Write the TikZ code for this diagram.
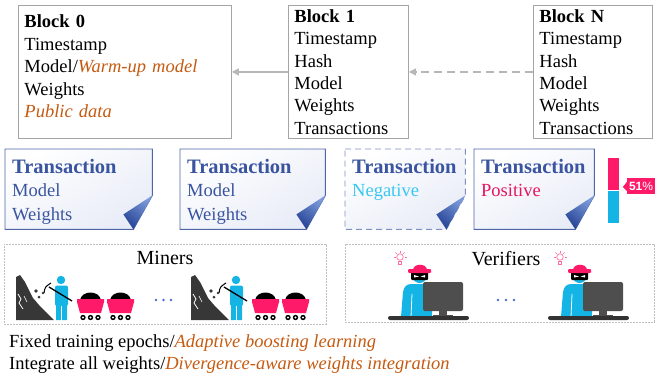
\documentclass[tikz,border=0pt]{standalone}
\usepackage{fontspec}
\setmainfont{Liberation Serif}
\newfontfamily\tagfont{Liberation Sans}
\usetikzlibrary{arrows.meta, positioning}
\definecolor{blkline}{RGB}{165,165,165}
\definecolor{warm}{RGB}{197,90,17}
\definecolor{txblue}{RGB}{58,84,160}
\definecolor{docbg}{RGB}{232,236,247}
\definecolor{folddk}{RGB}{38,68,150}
\definecolor{foldlt}{RGB}{125,155,218}
\definecolor{negc}{RGB}{55,200,240}
\definecolor{posc}{RGB}{230,20,95}
\definecolor{pinkc}{RGB}{255,25,105}
\definecolor{bulbc}{RGB}{255,110,160}
\definecolor{cyanc}{RGB}{20,180,228}
\definecolor{rockc}{RGB}{55,55,55}
\definecolor{monc}{RGB}{78,78,78}
\definecolor{dotc}{RGB}{70,110,200}
\tikzset{
  % bloco da cadeia
  blk/.style={rectangle, draw=blkline, line width=0.9pt, anchor=north west,
              align=left, inner xsep=6pt, inner ysep=1pt,
              font=\fontsize{18.5}{22.4}\selectfont},
  ar/.style={-{Triangle[length=7pt,width=7pt]}, line width=1.3pt, draw=blkline!80},
  % folha de transação
  docbox/.style={rectangle, anchor=north west, minimum height=80pt, inner sep=0pt},
  txdoc/.style={draw=txblue!90, line width=0.9pt, top color=white, bottom color=docbg,
                shading angle=30},
  fold/.style={top color=foldlt, bottom color=folddk, shading angle=-40},
  txtxt/.style={anchor=north west, align=left, inner sep=0pt, text=txblue,
                font=\fontsize{18.5}{23.5}\selectfont},
  % grupos de mineradores / verificadores
  grpbox/.style={rectangle, anchor=north west, draw=blkline!70, line width=0.6pt,
                 dash pattern=on 2pt off 1pt},
  grplbl/.style={anchor=base, font=\fontsize{20}{24}\selectfont},
  pct/.style={rectangle, fill=pinkc, text=white, inner sep=0pt, minimum width=28pt,
              minimum height=16pt, font=\tagfont\fontsize{12}{12}\selectfont},
  note/.style={anchor=base west, inner sep=0pt, font=\fontsize{18.5}{22}\selectfont}
}
\newcommand{\txpaper}[2][]{%
  \path[txdoc,#1] (#2.north west) -- (#2.north east) -- ([yshift=34]#2.south east)
    -- ([xshift=-19]#2.south east) -- (#2.south west) -- cycle;
  \path[fold] ([xshift=-29,yshift=15]#2.south east) -- ([yshift=34]#2.south east)
    -- ([xshift=-19]#2.south east) -- cycle;}

\begin{document}
\begin{tikzpicture}[x=1pt, y=1pt]
  \useasboundingbox (0,0) rectangle (658,-375);

  % --- cadeia de blocos ---
  \node[blk, minimum width=213pt, minimum height=133pt, text width=201pt, text depth=101pt] (b0) at (18,-5)
    {\textbf{Block 0}\\Timestamp\\Model/\textcolor{warm}{\textit{Warm-up model}}\\Weights\\
     \textcolor{warm}{\textit{Public data}}};
  \node[blk, minimum width=120pt, minimum height=133pt, text width=108pt] (b1) at (288,-5)
    {\textbf{Block 1}\\Timestamp\\Hash\\Model\\Weights\\Transactions};
  \node[blk, minimum width=119pt, minimum height=133pt, text width=107pt] (bN) at (533,-5)
    {\textbf{Block N}\\Timestamp\\Hash\\Model\\Weights\\Transactions};
  \draw[ar] (b1.west) -- (b0.east);
  \draw[ar, dash pattern=on 8pt off 5pt] (bN.west) -- (b1.east);

  % --- transações ---
  \node[docbox, minimum width=147pt] (t1) at (5,-149) {};
  \node[docbox, minimum width=145pt] (t2) at (180,-149) {};
  \node[docbox, minimum width=120pt] (t3) at (345,-149) {};
  \node[docbox, minimum width=120pt] (t4) at (474,-149) {};
  \txpaper{t1}
  \txpaper{t2}
  \txpaper[draw=txblue!65, dash pattern=on 6pt off 4pt]{t3}
  \txpaper{t4}
  \node[txtxt] (t1txt) at ([xshift=7,yshift=-10]t1.north west)
    {{\fontsize{20.5}{24}\selectfont\bfseries Transaction}\\Model\\Weights};
  \node[txtxt] (t2txt) at ([xshift=7,yshift=-10]t2.north west)
    {{\fontsize{20.5}{24}\selectfont\bfseries Transaction}\\Model\\Weights};
  \node[txtxt] (t3txt) at ([xshift=7,yshift=-10]t3.north west)
    {{\fontsize{20.5}{24}\selectfont\bfseries Transaction}\\\textcolor{negc}{Negative}};
  \node[txtxt] (t4txt) at ([xshift=7,yshift=-10]t4.north west)
    {{\fontsize{20.5}{24}\selectfont\bfseries Transaction}\\\textcolor{posc}{Positive}};

  % barra de votos
  \fill[pinkc] (608,-158) rectangle (619,-190);
  \fill[cyanc] (608,-191) rectangle (619,-223);
  \node[pct] (vote) at (641,-186) {\textbf{51}\%};
  \fill[pinkc] ([yshift=4]vote.west) -- ([xshift=-4,yshift=-1]vote.west) -- ([yshift=-5]vote.west) -- cycle;

  % --- mineradores ---
  \node[grpbox, minimum width=322pt, minimum height=80pt] (minbox) at (4,-244) {};
  \node[grplbl] (minlbl) at (165,-264) {Miners};
  \foreach \dx in {0,175} {
    \begin{scope}[xshift=\dx]
      % rocha
      \fill[rockc] (16,-320) -- (16,-277) -- (20,-275) -- (25,-282) -- (29,-290)
        -- (33,-298) -- (39,-305) -- (46,-312) -- (54,-320) -- cycle;
      \draw[white, line width=0.8pt] (18,-294) -- (21,-299) -- (19,-303) -- (23,-309);
      \draw[white, line width=0.6pt] (24,-296) -- (27,-302);
      \fill[rockc] (36,-291) circle (1.8) (39,-297) circle (1.5) (43,-293) circle (1.3);
      % minerador
      \fill[cyanc] (61,-280) circle (4.2);
      \fill[cyanc, rounded corners=2pt] (55,-285.5) rectangle (68,-306);
      \fill[cyanc] (56,-304) rectangle (60.8,-320) (62.2,-304) rectangle (67,-320);
      \draw[black, line width=1.3pt] (49,-287) -- (72,-301);
      \draw[black, line width=1pt] (44,-293) .. controls (45,-287) .. (51,-283);
      % vagonetes
      \foreach \cx in {0,30} {
        \fill[black] (80+\cx,-300) .. controls (82+\cx,-290) and (99+\cx,-290) .. (101+\cx,-300) -- cycle;
        \fill[pinkc] (77+\cx,-299) -- (104+\cx,-299) -- (104+\cx,-302) -- (101+\cx,-313)
          -- (80+\cx,-313) -- (77+\cx,-302) -- cycle;
        \foreach \wx in {83,90.5,98} {
          \fill[black] (\wx+\cx,-317.5) circle (2.7);
          \fill[white] (\wx+\cx,-317.5) circle (1.1);
        }
      }
    \end{scope}
  }
  \foreach \px in {156,163.5,171} \fill[dotc] (\px,-300) circle (1.3);

  % --- verificadores ---
  \node[grpbox, minimum width=309pt, minimum height=78pt] (verbox) at (345,-244) {};
  \node[grplbl] (verlbl) at (506,-265) {Verifiers};
  \foreach \dx in {0,160} {
    \begin{scope}[xshift=\dx]
      % lâmpada
      \draw[bulbc, line width=0.7pt] (400,-257) circle (3.3);
      \draw[bulbc, line width=0.7pt] (398.5,-261) rectangle (401.5,-264.5);
      \foreach \a in {90,135,45,180,0} \draw[bulbc, line width=0.5pt] (400,-257) ++(\a:4.5) -- ++(\a:2);
      % pessoa
      \fill[cyanc] (401,-317) -- (403,-292) .. controls (404,-286) and (407,-284) .. (412,-284)
        -- (427,-284) -- (432,-290) -- (432,-317) -- cycle;
      \draw[white, line width=0.8pt] (412,-294) -- (411,-317);
      \fill[cyanc] (419.5,-276) circle (7);
      \fill[black, rounded corners=1pt] (411,-272) rectangle (428,-280);
      \fill[white] (414,-275) -- (419,-276.5) -- (414,-277.5) -- cycle;
      \fill[white] (425,-275) -- (420.5,-276.5) -- (425,-277.5) -- cycle;
      \fill[pinkc] (413,-270) .. controls (413,-263) and (427,-263) .. (427,-270) -- cycle;
      \fill[pinkc, rounded corners=1pt] (408,-269) rectangle (431,-273);
      % monitor
      \fill[monc, rounded corners=2pt] (423,-282) rectangle (463,-311);
      \fill[monc] (439,-310) rectangle (447,-316);
      \fill[monc] (433,-314.5) rectangle (453,-317);
      \fill[black!80, rounded corners=2pt] (388,-316) rectangle (469,-320);
    \end{scope}
  }
  \foreach \px in {498,506,514} \fill[dotc] (\px,-300) circle (1.3);

  % --- notas ---
  \node[note] (epochs) at (9,-347)
    {Fixed training epochs/\textcolor{warm}{\textit{Adaptive boosting learning}}};
  \node[note] (merge) at (9,-369)
    {Integrate all weights/\textcolor{warm}{\textit{Divergence-aware weights integration}}};
\end{tikzpicture}
\end{document}
